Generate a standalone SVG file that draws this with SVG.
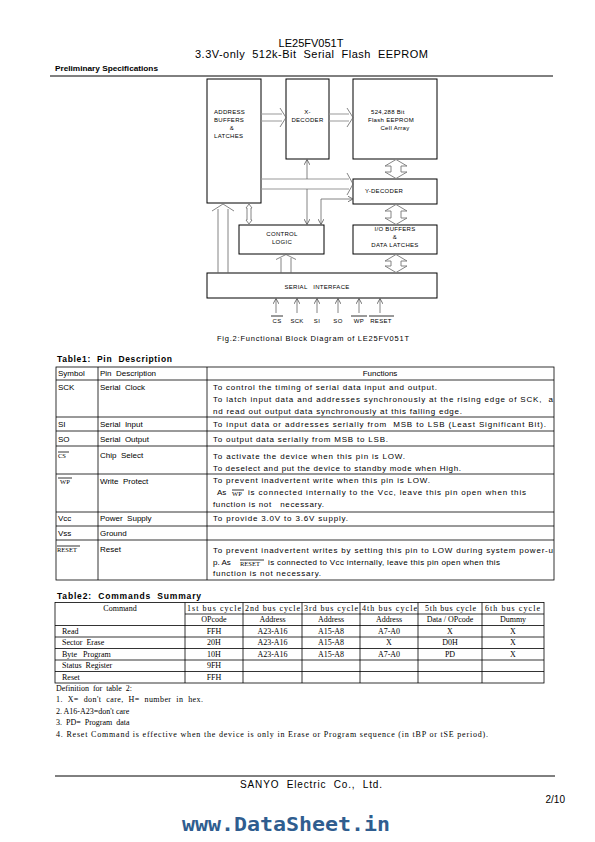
<svg xmlns="http://www.w3.org/2000/svg" width="595" height="842" viewBox="0 0 595 842">
<defs>
<marker id="ov" viewBox="0 0 6 6" refX="5.5" refY="3" markerWidth="6" markerHeight="6" markerUnits="userSpaceOnUse" orient="auto-start-reverse">
<path d="M0,0 L5.5,3 L0,6" fill="none" stroke="#555" stroke-width="0.8"/>
</marker>
</defs>
<style>
.s{font-family:"Liberation Sans",Arial,sans-serif;fill:#000}
.b{font-family:"Liberation Sans",Arial,sans-serif;font-weight:bold;fill:#000}
.bx{fill:#fff;stroke:#000;stroke-width:1}
.bt{font-family:"Liberation Sans",Arial,sans-serif;font-size:6px;letter-spacing:0.3px;fill:#000}
.ha{fill:#fff;stroke:#777;stroke-width:0.9}
.bus{stroke:#999;stroke-width:1;fill:none}
.ln{stroke:#666;stroke-width:0.8;fill:none}
.tl{stroke:#000;stroke-width:0.8;fill:none}
.t1{font-family:"Liberation Sans",Arial,sans-serif;font-size:8px;fill:#000}
.t2{font-family:"Liberation Serif","Times New Roman",serif;font-size:8px;fill:#000}
.sm{font-family:"Liberation Serif","Times New Roman",serif;font-size:6.5px;fill:#000}
</style>
<rect width="595" height="842" fill="#fff"/>

<g id="header">
<text class="s" x="311" y="47" font-size="11" text-anchor="middle">LE25FV051T</text>
<text class="s" x="195" y="58" font-size="11" textLength="233" lengthAdjust="spacing" xml:space="preserve">3.3V-only  512k-Bit  Serial  Flash  EEPROM</text>
<text class="b" x="55" y="71" font-size="7" textLength="103" lengthAdjust="spacingAndGlyphs">Preliminary Specifications</text>
<line x1="50" y1="76" x2="553" y2="76" stroke="#000" stroke-width="1"/>
</g>

<g id="address-buffers">
<rect class="bx" x="207" y="79" width="54" height="124"/>
<text class="bt" x="214" y="114">ADDRESS</text>
<text class="bt" x="214" y="122">BUFFERS</text>
<text class="bt" x="232" y="130" text-anchor="middle">&amp;</text>
<text class="bt" x="214" y="138">LATCHES</text>
</g>
<g id="x-decoder">
<rect class="bx" x="286" y="79" width="43" height="80"/>
<text class="bt" x="307.5" y="114" text-anchor="middle">X-</text>
<text class="bt" x="307.5" y="122" text-anchor="middle">DECODER</text>
</g>
<g id="cell-array">
<rect class="bx" x="353" y="79" width="84" height="80"/>
<text class="bt" x="371" y="114">524,288 Bit</text>
<text class="bt" x="368" y="122">Flash EEPROM</text>
<text class="bt" x="395" y="130" text-anchor="middle">Cell Array</text>
</g>
<g id="y-decoder">
<rect class="bx" x="353" y="179" width="84" height="25"/>
<text class="bt" x="384" y="193" text-anchor="middle">Y-DECODER</text>
</g>
<g id="control-logic">
<rect class="bx" x="239" y="225" width="85" height="29"/>
<text class="bt" x="282" y="236" text-anchor="middle">CONTROL</text>
<text class="bt" x="282" y="244" text-anchor="middle">LOGIC</text>
</g>
<g id="io-buffers">
<rect class="bx" x="353" y="225" width="84" height="29"/>
<text class="bt" x="395" y="231" text-anchor="middle">I/O BUFFERS</text>
<text class="bt" x="395" y="239" text-anchor="middle">&amp;</text>
<text class="bt" x="395" y="247" text-anchor="middle">DATA LATCHES</text>
</g>
<g id="serial-interface">
<rect class="bx" x="207" y="273" width="230" height="25"/>
<text class="bt" x="317" y="289" text-anchor="middle" xml:space="preserve">SERIAL   INTERFACE</text>
</g>

<g id="connectors">
<line class="bus" x1="261" y1="114" x2="282" y2="114"/>
<line class="bus" x1="261" y1="121" x2="282" y2="121"/>
<polyline class="ln" points="280,108 286,117.5 280,127"/>
<line class="bus" x1="329" y1="114" x2="349" y2="114"/>
<line class="bus" x1="329" y1="121" x2="349" y2="121"/>
<polyline class="ln" points="347,108 353,117.5 347,127"/>
<line class="bus" x1="261" y1="179" x2="349" y2="179"/>
<line class="bus" x1="261" y1="189" x2="349" y2="189"/>
<polyline class="ln" points="347,173 353,184 347,195"/>
<line class="ln" x1="307" y1="179" x2="307" y2="159.5" marker-end="url(#ov)"/>
<line class="ln" x1="307" y1="189" x2="307" y2="224.5" marker-end="url(#ov)"/>
<polyline class="ln" points="353,199 321,199 321,224.5" marker-start="url(#ov)" marker-end="url(#ov)"/>
<polygon class="ha" points="249,204 252,208 251,208 251,220 252,220 249,224 246,220 247,220 247,208 246,208"/>
<line class="ln" x1="218" y1="273" x2="218" y2="209"/>
<line class="ln" x1="228" y1="273" x2="228" y2="209"/>
<polyline class="ln" points="212,211 223,204 234,211"/>
<line class="ln" x1="281" y1="273" x2="281" y2="258"/>
<line class="ln" x1="291" y1="273" x2="291" y2="258"/>
<polyline class="ln" points="276,259.5 286,254.5 296,259.5"/>
<polygon class="ha" points="396,159.5 407,166 401,166 401,172 407,172 396,178.5 385,172 391,172 391,166 385,166"/>
<polygon class="ha" points="396,204.5 407,211 401,211 401,218 407,218 396,224.5 385,218 391,218 391,211 385,211"/>
<polygon class="ha" points="396,254.5 407,261 401,261 401,266 407,266 396,272.5 385,266 391,266 391,261 385,261"/>
<line class="ln" x1="276" y1="313" x2="276" y2="298.5" marker-end="url(#ov)"/>
<line class="ln" x1="297" y1="313" x2="297" y2="298.5" marker-end="url(#ov)"/>
<line class="ln" x1="317" y1="313" x2="317" y2="298.5" marker-end="url(#ov)"/>
<line class="ln" x1="338" y1="313" x2="338" y2="298.5" marker-end="url(#ov)"/>
<line class="ln" x1="359" y1="313" x2="359" y2="298.5" marker-end="url(#ov)"/>
<line class="ln" x1="380" y1="313" x2="380" y2="298.5" marker-end="url(#ov)"/>
</g>

<g id="pin-labels">
<text class="bt" x="277" y="323" text-anchor="middle">CS</text>
<line class="tl" x1="271" y1="316" x2="283" y2="316"/>
<text class="bt" x="297" y="323" text-anchor="middle">SCK</text>
<text class="bt" x="317" y="323" text-anchor="middle">SI</text>
<text class="bt" x="338" y="323" text-anchor="middle">SO</text>
<text class="bt" x="359" y="323" text-anchor="middle">WP</text>
<line class="tl" x1="351" y1="316" x2="367" y2="316"/>
<text class="bt" x="381" y="323" text-anchor="middle">RESET</text>
<line class="tl" x1="369" y1="316" x2="394" y2="316"/>
</g>

<text class="s" x="217" y="341" font-size="7.5" textLength="192" lengthAdjust="spacing">Fig.2:Functional Block Diagram of LE25FV051T</text>

<g id="table1">
<text class="b" x="57" y="362" font-size="8.5" textLength="115" lengthAdjust="spacing" xml:space="preserve">Table1:  Pin  Description</text>
<g class="tl">
<rect x="56" y="367" width="498" height="213"/>
<line x1="98" y1="367" x2="98" y2="580"/>
<line x1="207" y1="367" x2="207" y2="580"/>
<line x1="56" y1="380" x2="554" y2="380"/>
<line x1="56" y1="417" x2="554" y2="417"/>
<line x1="56" y1="431" x2="554" y2="431"/>
<line x1="56" y1="446" x2="554" y2="446"/>
<line x1="56" y1="474" x2="554" y2="474"/>
<line x1="56" y1="512" x2="554" y2="512"/>
<line x1="56" y1="526" x2="554" y2="526"/>
<line x1="56" y1="540" x2="554" y2="540"/>
</g>
<text class="t1" x="58" y="376">Symbol</text>
<text class="t1" x="100" y="376" xml:space="preserve">Pin  Description</text>
<text class="t1" x="380" y="376" text-anchor="middle">Functions</text>

<text class="t1" x="58" y="390">SCK</text>
<text class="t1" x="100" y="390" xml:space="preserve">Serial  Clock</text>
<text class="t1" x="213" y="390" textLength="224" lengthAdjust="spacing">To control the timing of serial data input and output.</text>
<text class="t1" x="213" y="402" textLength="340" lengthAdjust="spacing" xml:space="preserve">To latch input data and addresses synchronously at the rising edge of SCK,  a</text>
<text class="t1" x="213" y="413.5" textLength="249" lengthAdjust="spacing">nd read out output data synchronously at this falling edge.</text>

<text class="t1" x="58" y="427">SI</text>
<text class="t1" x="100" y="427" xml:space="preserve">Serial  Input</text>
<text class="t1" x="213" y="427" textLength="333" lengthAdjust="spacing" xml:space="preserve">To input data or addresses serially from  MSB to LSB (Least Significant Bit).</text>

<text class="t1" x="58" y="442">SO</text>
<text class="t1" x="100" y="442" xml:space="preserve">Serial  Output</text>
<text class="t1" x="213" y="442" textLength="175" lengthAdjust="spacing">To output data serially from MSB to LSB.</text>

<text class="sm" x="58" y="458">CS</text>
<line class="tl" x1="58" y1="452" x2="69" y2="452" stroke-width="0.6"/>
<text class="t1" x="100" y="458" xml:space="preserve">Chip  Select</text>
<text class="t1" x="213" y="459" textLength="192" lengthAdjust="spacing">To activate the device when this pin is LOW.</text>
<text class="t1" x="213" y="471" textLength="248" lengthAdjust="spacing">To deselect and put the device to standby mode when High.</text>

<text class="sm" x="60" y="484">WP</text>
<line class="tl" x1="58" y1="478" x2="72" y2="478" stroke-width="0.6"/>
<text class="t1" x="100" y="484" xml:space="preserve">Write  Protect</text>
<text class="t1" x="213" y="483" textLength="217" lengthAdjust="spacing">To prevent inadvertent write when this pin is LOW.</text>
<text class="t1" x="217" y="495">As</text>
<text class="sm" x="232" y="496">WP</text>
<line class="tl" x1="232" y1="490" x2="244" y2="490" stroke-width="0.6"/>
<text class="t1" x="248" y="495" textLength="278" lengthAdjust="spacing">is connected internally to the Vcc, leave this pin open when this</text>
<text class="t1" x="213" y="507" textLength="111" lengthAdjust="spacing" xml:space="preserve">function is not   necessary.</text>

<text class="t1" x="58" y="521">Vcc</text>
<text class="t1" x="100" y="521" xml:space="preserve">Power  Supply</text>
<text class="t1" x="213" y="521" textLength="135" lengthAdjust="spacing">To provide 3.0V to 3.6V supply.</text>

<text class="t1" x="58" y="536">Vss</text>
<text class="t1" x="100" y="536">Ground</text>

<text class="sm" x="57" y="552">RESET</text>
<line class="tl" x1="57" y1="546" x2="80" y2="546" stroke-width="0.6"/>
<text class="t1" x="100" y="552">Reset</text>
<text class="t1" x="213" y="553" textLength="340" lengthAdjust="spacing">To prevent inadvertent writes by setting this pin to LOW during system power-u</text>
<text class="t1" x="213" y="565">p. As</text>
<text class="sm" x="240" y="566">RESET</text>
<line class="tl" x1="240" y1="560" x2="264" y2="560" stroke-width="0.6"/>
<text class="t1" x="268" y="565" textLength="232" lengthAdjust="spacing">is connected to Vcc internally, leave this pin open when this</text>
<text class="t1" x="213" y="576" textLength="108" lengthAdjust="spacing">function is not necessary.</text>
</g>

<g id="table2">
<text class="b" x="57" y="599" font-size="8.5" textLength="144" lengthAdjust="spacing" xml:space="preserve">Table2:  Commands  Summary</text>
<g class="tl">
<rect x="55" y="602.5" width="489" height="80.5"/>
<line x1="185" y1="602.5" x2="185" y2="683"/>
<line x1="243" y1="602.5" x2="243" y2="683"/>
<line x1="302" y1="602.5" x2="302" y2="683"/>
<line x1="360" y1="602.5" x2="360" y2="683"/>
<line x1="418" y1="602.5" x2="418" y2="683"/>
<line x1="482" y1="602.5" x2="482" y2="683"/>
<line x1="185" y1="614" x2="544" y2="614"/>
<line x1="55" y1="625.5" x2="544" y2="625.5"/>
<line x1="55" y1="637" x2="544" y2="637"/>
<line x1="55" y1="648.5" x2="544" y2="648.5"/>
<line x1="55" y1="660" x2="544" y2="660"/>
<line x1="55" y1="671.5" x2="544" y2="671.5"/>
</g>
<text class="t2" x="120" y="610.5" text-anchor="middle">Command</text>
<text class="t2" x="187" y="610.5" textLength="54" lengthAdjust="spacing">1st bus cycle</text>
<text class="t2" x="245" y="610.5" textLength="55" lengthAdjust="spacing">2nd bus cycle</text>
<text class="t2" x="304" y="610.5" textLength="54" lengthAdjust="spacing">3rd bus cycle</text>
<text class="t2" x="362" y="610.5" textLength="55" lengthAdjust="spacing">4th bus cycle</text>
<text class="t2" x="425" y="610.5" textLength="51" lengthAdjust="spacing">5th bus cycle</text>
<text class="t2" x="485" y="610.5" textLength="55" lengthAdjust="spacing">6th bus cycle</text>

<g text-anchor="middle">
<text class="t2" x="214" y="622">OPcode</text>
<text class="t2" x="272.5" y="622">Address</text>
<text class="t2" x="331" y="622">Address</text>
<text class="t2" x="389" y="622">Address</text>
<text class="t2" x="450" y="622">Data / OPcode</text>
<text class="t2" x="513" y="622">Dummy</text>

<text class="t2" x="214" y="633.5">FFH</text>
<text class="t2" x="272.5" y="633.5">A23-A16</text>
<text class="t2" x="331" y="633.5">A15-A8</text>
<text class="t2" x="389" y="633.5">A7-A0</text>
<text class="t2" x="450" y="633.5">X</text>
<text class="t2" x="513" y="633.5">X</text>

<text class="t2" x="214" y="645">20H</text>
<text class="t2" x="272.5" y="645">A23-A16</text>
<text class="t2" x="331" y="645">A15-A8</text>
<text class="t2" x="389" y="645">X</text>
<text class="t2" x="450" y="645">D0H</text>
<text class="t2" x="513" y="645">X</text>

<text class="t2" x="214" y="656.5">10H</text>
<text class="t2" x="272.5" y="656.5">A23-A16</text>
<text class="t2" x="331" y="656.5">A15-A8</text>
<text class="t2" x="389" y="656.5">A7-A0</text>
<text class="t2" x="450" y="656.5">PD</text>
<text class="t2" x="513" y="656.5">X</text>

<text class="t2" x="214" y="668">9FH</text>
<text class="t2" x="214" y="679.5">FFH</text>
</g>
<text class="t2" x="62" y="633.5">Read</text>
<text class="t2" x="62" y="645" xml:space="preserve">Sector  Erase</text>
<text class="t2" x="62" y="656.5" xml:space="preserve">Byte   Program</text>
<text class="t2" x="62" y="668" xml:space="preserve">Status  Register</text>
<text class="t2" x="62" y="679.5">Reset</text>
</g>

<g id="definitions">
<text class="t2" x="56" y="690.5" xml:space="preserve">Definition  for  table  2:</text>
<text class="t2" x="56" y="702" textLength="147" lengthAdjust="spacing" xml:space="preserve">1.  X=  don't  care,  H=  number  in  hex.</text>
<text class="t2" x="56" y="713.5">2. A16-A23=don't care</text>
<text class="t2" x="56" y="725" xml:space="preserve">3.  PD=  Program  data</text>
<text class="t2" x="56" y="737" textLength="432" lengthAdjust="spacing">4. Reset Command is effective when the device is only in Erase or Program sequence (in tBP or tSE period).</text>
</g>

<g id="footer">
<line x1="55" y1="776" x2="555" y2="776" stroke="#000" stroke-width="1"/>
<text class="s" x="240" y="788" font-size="10" textLength="142" lengthAdjust="spacing" xml:space="preserve">SANYO  Electric  Co.,  Ltd.</text>
<text class="s" x="565" y="803" font-size="10" text-anchor="end">2/10</text>
<text x="182" y="831" font-family="'DejaVu Sans Mono',monospace" font-weight="bold" font-size="20" fill="#2f5d8f" textLength="208" lengthAdjust="spacingAndGlyphs">www.DataSheet.in</text>
</g>
</svg>
